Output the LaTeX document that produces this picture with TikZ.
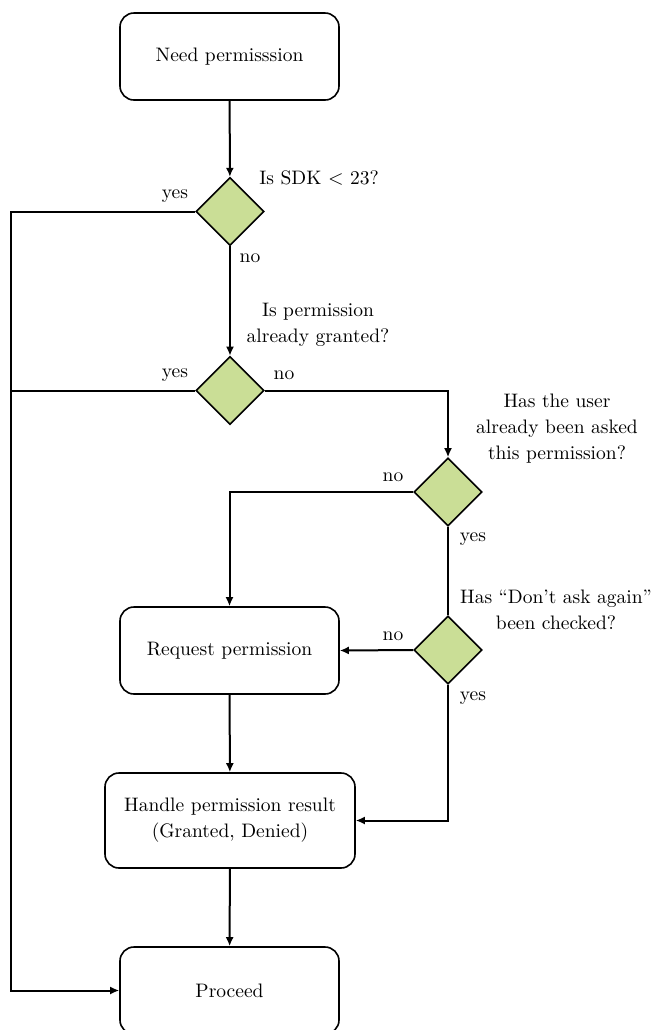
\documentclass[tikz,border=0pt]{standalone}
\usetikzlibrary{shapes.geometric,arrows.meta}
\definecolor{decisiongreen}{RGB}{202,222,150}
\begin{document}
\begin{tikzpicture}[x=0.5pt,y=-0.5pt,
  every node/.style={font=\fontsize{9.75pt}{12pt}\selectfont},
  stepbox/.style={draw, line width=0.8pt, rounded corners=7pt, align=center,
    minimum width=109.5pt, minimum height=43.5pt, inner sep=0pt},
  decision/.style={draw, line width=0.8pt, diamond, aspect=1, fill=decisiongreen,
    minimum width=34pt, minimum height=34pt, inner sep=0pt},
  flow/.style={line width=1pt, -{Latex[length=4.5pt,width=4pt]}},
  plainflow/.style={line width=1pt},
  tag/.style={inner sep=0pt, align=center}]
\useasboundingbox (0,0) rectangle (652,1030);

% process boxes
\node[stepbox] (need) at (229.5,56.5) {Need permisssion};
\node[stepbox] (request) at (229.5,650.5) {Request permission};
\node[stepbox, minimum width=125pt, minimum height=47.5pt] (handle) at (230,820.5)
  {Handle permission result\\[1pt](Granted, Denied)};
\node[stepbox] (proceed) at (229.5,990.5) {Proceed};

% decisions
\node[decision] (sdk) at (230,211.5) {};
\node[decision] (granted) at (230,390.5) {};
\node[decision] (asked) at (448,492) {};
\node[decision] (dontask) at (448,650) {};

% questions
\node[tag, anchor=west] (qsdk) at (259,178) {Is SDK $<$ 23?};
\node[tag] (qgranted) at (318,325) {Is permission\\[1pt]already granted?};
\node[tag] (qasked) at (557,428.5) {Has the user\\[1pt]already been asked\\[1pt]this permission?};
\node[tag] (qdontask) at (556,610) {Has ``Don't ask again''\\[1pt]been checked?};

% answers
\node[tag] (ysdk) at (175,196) {yes};
\node[tag] (nsdk) at (250,258) {no};
\node[tag] (ygranted) at (175,375) {yes};
\node[tag] (ngranted) at (284,375) {no};
\node[tag] (nasked) at (393,477) {no};
\node[tag] (yasked) at (473,539) {yes};
\node[tag] (ndontask) at (393,636) {no};
\node[tag] (ydontask) at (473,698) {yes};

% rails
\coordinate (leftrail) at (11,211.5);

% connectors
\draw[flow] (need) -- (sdk);
\draw[flow] (sdk) -- (granted);
\draw[flow] (sdk.west) -- (leftrail) |- (proceed.west);
\draw[plainflow] (granted.west) -- (granted.west -| leftrail);
\draw[flow] (granted.east) -| (asked.north);
\draw[flow] (asked.west) -| (request.north);
\draw[plainflow] (asked.south) -- (dontask.north);
\draw[flow] (dontask.west) -- (request.east);
\draw[flow] (dontask.south) |- (handle.east);
\draw[flow] (request) -- (handle);
\draw[flow] (handle) -- (proceed);
\end{tikzpicture}
\end{document}
